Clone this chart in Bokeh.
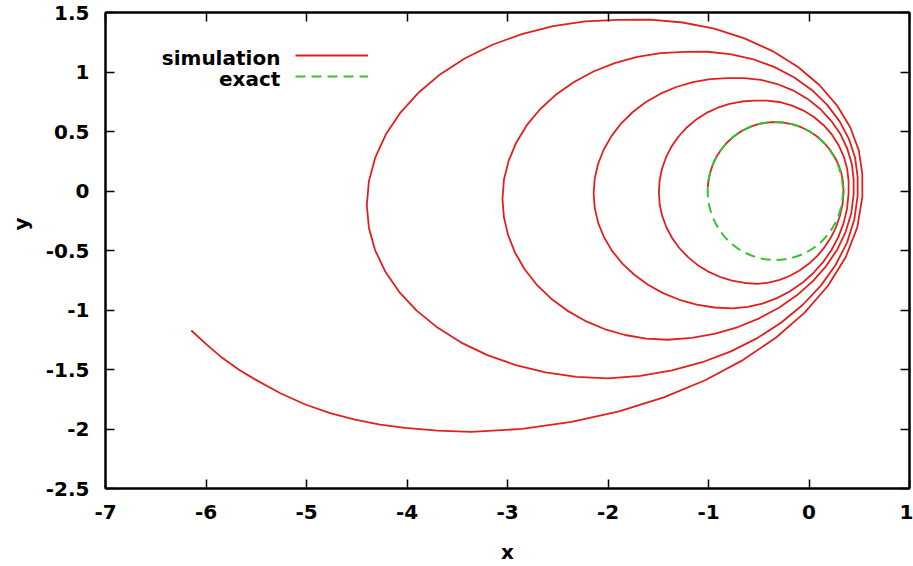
from bokeh.plotting import figure
from bokeh.models import FixedTicker, LinearAxis, Label, Legend, LegendItem, Range1d, Title
from bokeh.core.properties import value
from bokeh.embed import file_html
from bokeh.resources import INLINE

# ---------------- data ----------------
x_ticks = [-7, -6, -5, -4, -3, -2, -1, 0, 1]
x_tick_labels = ["-7", "-6", "-5", "-4", "-3", "-2", "-1", "0", "1"]
y_ticks = [-2.5, -2, -1.5, -1, -0.5, 0, 0.5, 1, 1.5]
y_tick_labels = ["-2.5", "-2", "-1.5", "-1", "-0.5", "0", "0.5", "1", "1.5"]

# simulated trajectory, in drawing order (one row per quarter turn)
sim_x = [
    -6.146, -5.990, -5.839, -5.675, -5.508, -5.260, -5.012, -4.765, -4.518, -4.268, -4.019, -3.695, -3.360,
    -2.855, -2.362, -1.890, -1.445, -1.033, -0.658, -0.327, -0.043, 0.189, 0.365, 0.480, 0.531,
    0.530, 0.495, 0.410, 0.278, 0.103, -0.112, -0.363, -0.642, -0.943, -1.258, -1.579, -1.900,
    -2.226, -2.547, -2.857, -3.150, -3.422, -3.668, -3.883, -4.065, -4.210, -4.315, -4.379, -4.400,
    -4.379, -4.318, -4.217, -4.078, -3.904, -3.697, -3.461, -3.200, -2.918, -2.621, -2.313, -2.000,
    -1.677, -1.363, -1.062, -0.777, -0.514, -0.275, -0.064, 0.118, 0.266, 0.378, 0.451, 0.484,
    0.484, 0.459, 0.398, 0.305, 0.181, 0.028, -0.150, -0.348, -0.562, -0.785, -1.013, -1.240,
    -1.476, -1.709, -1.933, -2.145, -2.342, -2.520, -2.676, -2.808, -2.912, -2.988, -3.035, -3.050,
    -3.036, -2.994, -2.925, -2.830, -2.710, -2.568, -2.406, -2.228, -2.035, -1.831, -1.620, -1.405,
    -1.165, -0.931, -0.706, -0.495, -0.299, -0.121, 0.036, 0.171, 0.282, 0.365, 0.420, 0.444,
    0.444, 0.426, 0.381, 0.314, 0.223, 0.112, -0.017, -0.161, -0.317, -0.479, -0.645, -0.810,
    -0.984, -1.155, -1.320, -1.477, -1.622, -1.753, -1.868, -1.964, -2.042, -2.098, -2.132, -2.143,
    -2.131, -2.096, -2.038, -1.958, -1.857, -1.738, -1.602, -1.452, -1.289, -1.118, -0.941, -0.760,
    -0.610, -0.464, -0.324, -0.192, -0.070, 0.041, 0.140, 0.224, 0.293, 0.345, 0.379, 0.394,
    0.394, 0.380, 0.347, 0.296, 0.229, 0.146, 0.049, -0.059, -0.176, -0.297, -0.421, -0.545,
    -0.669, -0.791, -0.908, -1.020, -1.123, -1.216, -1.298, -1.367, -1.422, -1.462, -1.486, -1.494,
    -1.486, -1.461, -1.419, -1.362, -1.291, -1.206, -1.110, -1.003, -0.888, -0.766, -0.640, -0.512,
    -0.401, -0.292, -0.188, -0.090, 0.001, 0.083, 0.156, 0.219, 0.270, 0.308, 0.334, 0.345,
    0.339, 0.322, 0.293, 0.253, 0.203, 0.144, 0.077, 0.003, -0.078, -0.163, -0.251, -0.340,
    -0.427, -0.513, -0.596, -0.674, -0.747, -0.812, -0.870, -0.919, -0.957, -0.985, -1.002, -1.007,
]
sim_y = [
    -1.172, -1.293, -1.402, -1.500, -1.585, -1.700, -1.794, -1.866, -1.922, -1.963, -1.991, -2.013, -2.025,
    -1.999, -1.941, -1.851, -1.734, -1.590, -1.421, -1.231, -1.022, -0.796, -0.557, -0.307, -0.050,
    0.146, 0.343, 0.536, 0.720, 0.891, 1.044, 1.176, 1.283, 1.364, 1.416, 1.440, 1.438,
    1.425, 1.385, 1.319, 1.229, 1.116, 0.982, 0.828, 0.659, 0.476, 0.283, 0.083, -0.120,
    -0.310, -0.496, -0.676, -0.847, -1.005, -1.148, -1.274, -1.379, -1.463, -1.524, -1.562, -1.574,
    -1.554, -1.508, -1.439, -1.348, -1.236, -1.105, -0.958, -0.795, -0.620, -0.434, -0.239, -0.040,
    0.119, 0.279, 0.436, 0.585, 0.724, 0.849, 0.956, 1.043, 1.109, 1.151, 1.170, 1.169,
    1.158, 1.127, 1.075, 1.004, 0.914, 0.808, 0.687, 0.553, 0.408, 0.255, 0.097, -0.064,
    -0.219, -0.371, -0.518, -0.657, -0.786, -0.903, -1.005, -1.091, -1.160, -1.210, -1.240, -1.250,
    -1.234, -1.198, -1.143, -1.070, -0.981, -0.877, -0.760, -0.631, -0.491, -0.343, -0.189, -0.030,
    0.099, 0.228, 0.355, 0.476, 0.588, 0.689, 0.776, 0.846, 0.899, 0.934, 0.949, 0.948,
    0.940, 0.915, 0.874, 0.818, 0.748, 0.664, 0.569, 0.463, 0.349, 0.229, 0.105, -0.022,
    -0.148, -0.272, -0.391, -0.505, -0.610, -0.704, -0.788, -0.858, -0.914, -0.954, -0.979, -0.987,
    -0.974, -0.946, -0.902, -0.844, -0.774, -0.691, -0.598, -0.496, -0.385, -0.268, -0.146, -0.020,
    0.083, 0.186, 0.287, 0.383, 0.473, 0.553, 0.622, 0.678, 0.720, 0.748, 0.760, 0.759,
    0.752, 0.733, 0.700, 0.656, 0.600, 0.534, 0.458, 0.375, 0.284, 0.189, 0.090, -0.010,
    -0.111, -0.209, -0.305, -0.395, -0.479, -0.554, -0.621, -0.677, -0.721, -0.754, -0.773, -0.780,
    -0.770, -0.747, -0.712, -0.666, -0.610, -0.545, -0.471, -0.389, -0.301, -0.208, -0.110, -0.010,
    0.076, 0.150, 0.222, 0.290, 0.353, 0.410, 0.460, 0.502, 0.536, 0.560, 0.575, 0.580,
    0.575, 0.560, 0.536, 0.502, 0.460, 0.410, 0.353, 0.290, 0.222, 0.150, 0.076, 0.030,
]
assert len(sim_x) == len(sim_y)

# exact solution: closed orbit (ellipse in data units)
exact_center_x = [-0.335]
exact_center_y = [0.0]
exact_width = [1.346]
exact_height = [1.16]

series_labels = ["simulation", "exact"]

# ---------------- style ----------------
RED = "#e0201e"
GREEN = "#33c233"
FONT = "DejaVu Sans"
FS = "20px"

p = figure(width=913, height=566,
           x_range=Range1d(-7, 1), y_range=Range1d(-2.5, 1.5),
           output_backend="svg", toolbar_location=None,
           min_border_left=103, min_border_right=4,
           min_border_top=12, min_border_bottom=73)
p.background_fill_color = "white"
p.border_fill_color = "white"
p.outline_line_color = "black"
p.outline_line_width = 2
p.xgrid.visible = False
p.ygrid.visible = False


def style_axis(ax, ticks, labels, show_labels):
    ax.ticker = FixedTicker(ticks=ticks)
    ax.major_tick_in = 9
    ax.major_tick_out = 0
    ax.major_tick_line_color = "black"
    ax.major_tick_line_width = 1.5
    ax.minor_tick_line_color = None
    ax.axis_line_color = "black"
    ax.axis_line_width = 2
    if show_labels:
        ax.major_label_overrides = {t: l for t, l in zip(ticks, labels)}
        ax.major_label_text_font = FONT
        ax.major_label_text_font_style = "bold"
        ax.major_label_text_font_size = FS
        ax.major_label_text_color = "black"
        ax.major_label_standoff = 16
        ax.axis_label_text_font = FONT
        ax.axis_label_text_font_style = "bold"
        ax.axis_label_text_font_size = FS
        ax.axis_label_text_color = "black"
    else:
        ax.major_label_text_font_size = "0px"
        ax.major_label_text_color = None
        ax.major_label_standoff = 0


style_axis(p.xaxis[0], x_ticks, x_tick_labels, True)
style_axis(p.yaxis[0], y_ticks, y_tick_labels, True)
p.xaxis[0].axis_label = "x"
p.xaxis[0].axis_label_standoff = 18

top_axis = LinearAxis()
style_axis(top_axis, x_ticks, x_tick_labels, False)
p.add_layout(top_axis, "above")
right_axis = LinearAxis()
style_axis(right_axis, y_ticks, y_tick_labels, False)
p.add_layout(right_axis, "right")

# y axis title: a side title, so it can sit above the centre like the reference
p.add_layout(Title(text="y", align="right", offset=205, vertical_align="top",
                   standoff=16, text_font=FONT, text_font_style="bold",
                   text_font_size=FS, text_color="black"), "left")

# ---------------- data marks ----------------
sim_r = p.line(sim_x, sim_y, line_color=RED, line_width=1.8, line_join="round")
p.ellipse(x=exact_center_x, y=exact_center_y, width=exact_width, height=exact_height,
          fill_color=None, line_color=GREEN, line_width=2, line_dash="10 6")

# hidden renderer, used only to draw the dashed legend key
exact_key = p.line(x=exact_center_x, y=exact_center_y, line_color=GREEN,
                   line_width=2, line_dash="10 6", visible=False)

# ---------------- legend (text on the left, key on the right) ----------------
legend = Legend(items=[LegendItem(label=value(""), renderers=[sim_r]),
                       LegendItem(label=value(""), renderers=[exact_key])],
                location=(190, 402), glyph_width=73, glyph_height=20,
                label_width=0, label_standoff=0, label_height=20,
                label_text_font_size="1px", label_text_color=None,
                inactive_fill_alpha=0,
                spacing=1, padding=0, margin=0,
                border_line_color=None, background_fill_alpha=0)
p.add_layout(legend)

for txt, yy in zip(series_labels, [1.116, 0.941]):
    p.add_layout(Label(x=-5.26, y=yy, text=txt, text_align="right",
                       text_baseline="alphabetic", text_font=FONT,
                       text_font_style="bold", text_font_size=FS,
                       text_color="black"))

open("out.html", "w").write(file_html(p, INLINE))
